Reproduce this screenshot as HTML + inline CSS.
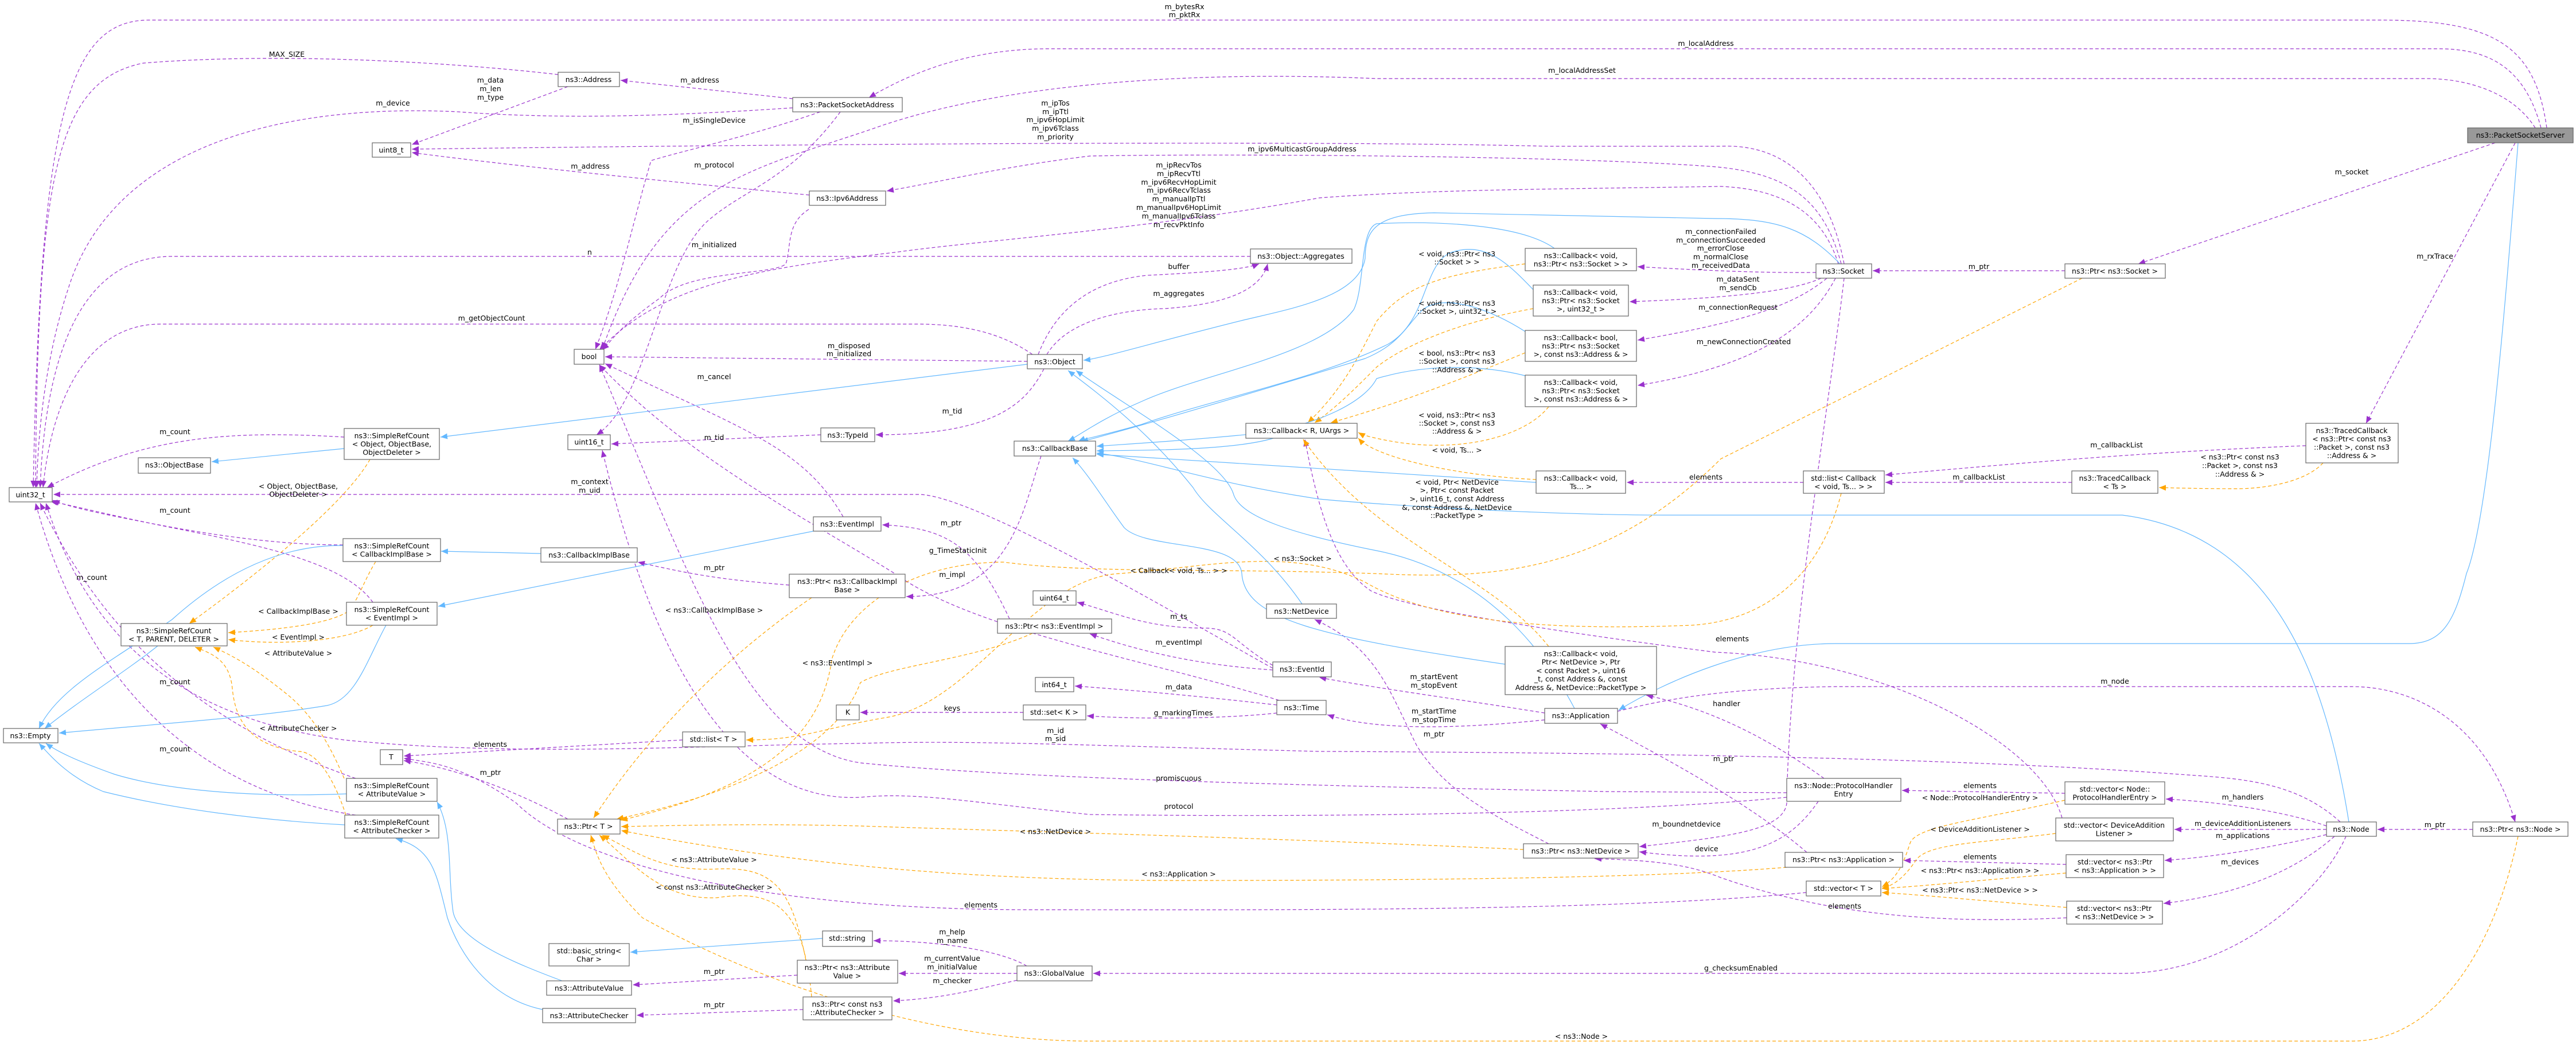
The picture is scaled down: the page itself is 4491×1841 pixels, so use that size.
<!DOCTYPE html>
<html><head><meta charset="utf-8"><style>
html,body{margin:0;padding:0;background:#fff;}
svg{display:block;}
text{font-family:"DejaVu Sans","Liberation Sans",sans-serif;font-size:12.5px;fill:#000;}
.n text{text-anchor:middle;}
.l{text-anchor:middle;}
.n rect{fill:#fff;stroke:#666;stroke-width:1.2;}
.p{fill:none;stroke:#9a32cd;stroke-width:1.2;stroke-dasharray:6,4;marker-end:url(#ap);}
.o{fill:none;stroke:#ffa500;stroke-width:1.2;stroke-dasharray:6,4;marker-end:url(#ao);}
.b{fill:none;stroke:#63b8ff;stroke-width:1.2;marker-end:url(#ab);}
</style></head><body>
<svg width="4491" height="1841" viewBox="0 0 4491 1841" xmlns="http://www.w3.org/2000/svg">
<defs>
<marker id="ap" markerUnits="userSpaceOnUse" markerWidth="13" markerHeight="10" refX="12" refY="5" orient="auto"><path d="M0,0 L12,5 L0,10 z" fill="#9a32cd"/></marker>
<marker id="ao" markerUnits="userSpaceOnUse" markerWidth="13" markerHeight="10" refX="12" refY="5" orient="auto"><path d="M0,0 L12,5 L0,10 z" fill="#ffa500"/></marker>
<marker id="ab" markerUnits="userSpaceOnUse" markerWidth="13" markerHeight="10" refX="12" refY="5" orient="auto"><path d="M0,0 L12,5 L0,10 z" fill="#63b8ff"/></marker>
</defs>

<!-- purple edges -->
<path class="p" d="M4440,223 C4420,80 4350,35 4150,35 L260,35 C120,35 70,200 58,850"/>
<path class="p" d="M4430,223 C4400,110 4330,85 4250,85 L1830,85 C1700,85 1600,120 1515,170"/>
<path class="p" d="M4420,223 C4380,160 4300,137 4230,137 L2400,137 C2000,120 1700,160 1520,225 C1300,300 1150,320 1050,609"/>
<path class="p" d="M973,130 C800,110 500,90 250,110 C100,140 65,300 62,850"/>
<path class="p" d="M990,151 L718,252"/>
<path class="p" d="M1411,340 C1200,320 900,290 718,266"/>
<path class="p" d="M1382,172 L1082,140"/>
<path class="p" d="M1382,188 C1200,200 1000,210 800,195 C500,180 200,250 120,500 C80,620 66,750 64,850"/>
<path class="p" d="M1430,195 C1300,240 1200,260 1135,280 C1100,400 1080,500 1038,609"/>
<path class="p" d="M1465,195 C1380,310 1300,330 1240,380 C1150,450 1130,700 1040,758"/>
<path class="p" d="M3215,460 C3190,330 3120,250 3000,255 L2700,255 C2300,245 1500,250 718,260"/>
<path class="p" d="M3210,460 C3180,350 3120,300 2980,290 C2700,270 2100,268 1900,272 C1750,290 1650,315 1546,333"/>
<path class="p" d="M3205,460 C3180,380 3120,330 3000,325 C2700,330 2500,330 2300,345 C2000,400 1700,420 1560,440 C1300,470 1150,500 1045,610"/>
<path class="p" d="M2180,447 L300,447 C150,447 80,600 70,850"/>
<path class="p" d="M1810,618 C1840,540 1900,490 2000,480 C2100,475 2170,470 2195,460"/>
<path class="p" d="M1825,618 C1860,560 1950,540 2030,538 C2150,530 2200,500 2210,460"/>
<path class="p" d="M1800,618 C1760,590 1700,565 1600,565 L280,565 C150,565 90,700 75,850"/>
<path class="p" d="M1791,630 L1055,622"/>
<path class="p" d="M1410,365 C1370,390 1380,430 1370,460 C1350,480 1200,470 1150,520 C1080,570 1070,590 1050,610"/>
<path class="p" d="M1820,643 C1790,700 1740,758 1527,758"/>
<path class="p" d="M1431,758 L1066,774"/>
<path class="p" d="M3600,472 L3265,472"/>
<path class="p" d="M4350,249 L3728,460"/>
<path class="p" d="M4385,249 L4125,738"/>
<path class="p" d="M3166,475 C3050,476 2950,470 2855,465"/>
<path class="p" d="M3175,485 C3120,510 3000,520 2841,526"/>
<path class="p" d="M3185,485 C3130,530 3050,560 2855,593"/>
<path class="p" d="M3200,485 C3150,580 3050,640 2855,672"/>
<path class="p" d="M600,762 C400,750 250,760 82,850"/>
<path class="p" d="M598,950 C450,950 300,920 200,900 C150,890 110,880 92,872"/>
<path class="p" d="M650,1050 C600,980 450,950 300,920 C200,900 120,880 88,874"/>
<path class="p" d="M620,1357 C400,1280 200,1150 70,877"/>
<path class="p" d="M620,1421 C350,1380 150,1200 62,877"/>
<path class="p" d="M1470,901 C1400,780 1300,750 1055,634"/>
<path class="p" d="M2219,1165 C2100,1100 1700,860 1600,862 L93,862"/>
<path class="p" d="M1376,1020 C1250,1010 1200,1000 1112,980"/>
<path class="p" d="M1815,795 C1780,900 1760,1040 1580,1040"/>
<path class="p" d="M2230,1221 C2000,1150 1700,1100 1560,1000 C1400,900 1200,800 1045,636"/>
<path class="p" d="M1760,1079 C1700,950 1650,920 1538,915"/>
<path class="p" d="M2219,1160 C2150,1120 2150,1095 2100,1095 C2000,1095 1950,1070 1878,1050"/>
<path class="p" d="M2219,1168 C2100,1160 2000,1140 1900,1105"/>
<path class="p" d="M2226,1229 C2100,1215 2000,1205 1874,1196"/>
<path class="p" d="M2226,1243 C2150,1252 2000,1255 1895,1248"/>
<path class="p" d="M1784,1242 L1500,1242"/>
<path class="p" d="M2693,1243 C2550,1220 2400,1200 2300,1181"/>
<path class="p" d="M2693,1255 C2550,1270 2400,1275 2314,1246"/>
<path class="p" d="M3150,1486 C3050,1400 2900,1320 2790,1262"/>
<path class="p" d="M4080,1433 C4000,1360 3900,1357 3800,1350 C3400,1320 2800,1312 2300,1310 C1900,1300 1700,1290 1500,1296 C1200,1300 900,1320 600,1290 C300,1250 150,1100 80,877"/>
<path class="p" d="M3115,1382 L2800,1380 C2400,1372 1800,1360 1500,1330 C1300,1300 1200,1000 1045,636"/>
<path class="p" d="M3115,1390 C2800,1420 2300,1425 1900,1420 C1700,1400 1600,1380 1500,1390 C1300,1400 1150,1200 1050,785"/>
<path class="p" d="M2700,1471 C2600,1420 2520,1380 2470,1300 C2420,1200 2400,1130 2292,1080"/>
<path class="p" d="M3215,485 C3190,700 3120,1100 3115,1400 C3110,1450 3000,1460 2858,1476"/>
<path class="p" d="M3170,1397 C3120,1470 3050,1510 2858,1485"/>
<path class="p" d="M3180,1357 C3100,1300 3000,1240 2870,1212"/>
<path class="p" d="M3603,1600 C3400,1610 3200,1600 3000,1530 C2950,1510 2900,1500 2780,1497"/>
<path class="p" d="M3149,1556 C2800,1590 2200,1586 1800,1586 C1300,1586 1000,1500 900,1400 C800,1330 750,1330 704,1322"/>
<path class="p" d="M3600,1383 L3316,1378"/>
<path class="p" d="M3602,1507 L3319,1500"/>
<path class="p" d="M3595,1426 C3560,1300 3300,1150 2990,1137 C2700,1100 2450,1060 2390,1030 C2330,990 2300,900 2275,766"/>
<path class="p" d="M1190,1290 L704,1318"/>
<path class="p" d="M990,1428 C900,1380 800,1340 704,1326"/>
<path class="p" d="M1790,1684 C1750,1660 1650,1640 1523,1640"/>
<path class="p" d="M1773,1697 L1567,1697"/>
<path class="p" d="M1773,1709 C1700,1725 1650,1740 1557,1745"/>
<path class="p" d="M1390,1700 L1103,1717"/>
<path class="p" d="M1400,1760 L1110,1770"/>
<path class="p" d="M4090,1458 C4050,1550 3900,1697 3700,1697 L1906,1697"/>
<path class="p" d="M4056,1440 C4000,1420 3900,1400 3776,1393"/>
<path class="p" d="M4056,1446 L3791,1446"/>
<path class="p" d="M4056,1455 C3950,1480 3850,1495 3774,1500"/>
<path class="p" d="M4070,1458 C4000,1520 3900,1560 3772,1575"/>
<path class="p" d="M4311,1446 L4145,1446"/>
<path class="p" d="M2820,1240 C2900,1220 3000,1200 3200,1197 L4100,1197 C4200,1197 4330,1250 4385,1433"/>
<path class="p" d="M4020,777 C3700,790 3500,810 3287,828"/>
<path class="p" d="M3612,841 L3287,841"/>
<path class="p" d="M3144,841 L2836,841"/>

<!-- orange edges -->
<path class="o" d="M645,801 C600,880 450,1000 330,1087"/>
<path class="o" d="M655,979 C630,1020 620,1060 600,1070 C560,1090 480,1098 398,1103"/>
<path class="o" d="M650,1090 C600,1120 480,1125 398,1115"/>
<path class="o" d="M600,1357 C580,1310 550,1250 500,1210 C450,1170 420,1150 372,1128"/>
<path class="o" d="M603,1421 C590,1380 560,1310 520,1310 C430,1300 410,1250 405,1200 C400,1150 370,1140 340,1128"/>
<path class="o" d="M2659,460 C2500,480 2450,500 2400,560 C2370,620 2340,680 2280,737"/>
<path class="o" d="M2673,538 C2550,560 2450,600 2400,640 C2360,680 2330,710 2292,737"/>
<path class="o" d="M2659,615 C2550,660 2450,700 2320,737"/>
<path class="o" d="M2700,709 C2660,760 2550,790 2430,770 C2390,763 2375,758 2368,754"/>
<path class="o" d="M2678,836 C2550,830 2400,800 2368,764"/>
<path class="o" d="M2700,1127 C2600,1000 2400,950 2272,766"/>
<path class="o" d="M4050,807 C4020,840 3950,852 3900,852 C3850,852 3800,851 3764,850"/>
<path class="o" d="M3210,860 C3180,980 3100,1080 2950,1090 C2700,1100 2500,1085 2380,1015 C2250,950 2100,990 1950,1000 C1800,1010 1700,1220 1550,1250 C1430,1270 1400,1290 1301,1290"/>
<path class="o" d="M3630,485 C3400,600 3200,700 3000,800 C2800,1000 2600,1010 2400,1000 C2100,990 1900,1000 1750,980 C1600,980 1480,1050 1450,1150 C1430,1300 1300,1380 1082,1430"/>
<path class="o" d="M1415,1042 C1300,1120 1150,1250 1035,1426"/>
<path class="o" d="M1800,1104 C1700,1150 1550,1160 1500,1190 C1460,1300 1300,1380 1075,1428"/>
<path class="o" d="M1405,1674 C1380,1550 1350,1510 1250,1515 C1150,1520 1100,1480 1050,1456"/>
<path class="o" d="M1415,1738 C1400,1580 1350,1550 1250,1565 C1150,1570 1100,1500 1045,1456"/>
<path class="o" d="M2656,1481 C2200,1460 1800,1450 1500,1440 C1300,1435 1150,1440 1083,1441"/>
<path class="o" d="M3115,1512 C2900,1530 2500,1535 2055,1535 C1600,1535 1300,1490 1083,1448"/>
<path class="o" d="M4390,1458 C4350,1650 4250,1815 4100,1815 L1900,1815 C1600,1815 1300,1700 1120,1600 C1050,1530 1040,1490 1030,1456"/>
<path class="o" d="M3600,1395 C3450,1430 3340,1440 3330,1470 C3320,1500 3310,1530 3281,1546"/>
<path class="o" d="M3584,1453 C3450,1470 3360,1470 3340,1500 C3320,1530 3300,1545 3281,1548"/>
<path class="o" d="M3602,1522 C3450,1535 3350,1545 3281,1549"/>
<path class="o" d="M3603,1582 C3450,1570 3350,1560 3281,1556"/>

<!-- blue edges -->
<path class="b" d="M4390,249 C4370,500 4340,900 4300,1000 C4280,1080 4260,1122 4200,1122 L3200,1122 C3050,1122 2900,1190 2822,1238"/>
<path class="b" d="M2745,1235 C2700,1150 2600,1000 2400,960 C2250,930 2160,900 2150,860 C2130,800 1950,700 1876,646"/>
<path class="b" d="M2624,1158 C2300,1110 2170,1080 2165,1000 C2160,940 2000,960 1960,920 C1930,880 1900,830 1870,798"/>
<path class="b" d="M2270,1053 C2200,950 2110,900 2080,850 C2000,750 1920,690 1862,646"/>
<path class="b" d="M4095,1433 C4050,1150 3950,930 3700,898 L2900,898 C2700,898 2400,880 2300,870 C2100,840 2000,800 1912,790"/>
<path class="b" d="M2678,841 L1912,792"/>
<path class="b" d="M2220,764 C2150,785 2000,785 1912,786"/>
<path class="b" d="M2710,433 C2650,390 2500,385 2400,390 C2370,400 2380,500 2360,540 C2300,620 2100,650 1990,700 C1920,730 1880,760 1862,769"/>
<path class="b" d="M2673,505 C2630,460 2590,420 2530,440 C2480,460 2490,560 2420,600 C2300,660 2100,700 1990,740 C1920,760 1890,765 1880,769"/>
<path class="b" d="M2659,578 C2600,540 2520,510 2480,540 C2450,570 2440,600 2380,625 C2200,680 2000,740 1885,770"/>
<path class="b" d="M2659,655 C2600,640 2500,630 2400,660 C2380,700 2300,740 2200,755 C2050,770 1950,775 1912,778"/>
<path class="b" d="M3208,460 C3150,400 3100,381 2991,381 L2500,371 C2400,373 2380,400 2380,450 C2370,520 2240,540 2160,560 C2000,600 1920,625 1889,628"/>
<path class="b" d="M1791,635 L768,762"/>
<path class="b" d="M600,782 L369,805"/>
<path class="b" d="M943,965 L769,961"/>
<path class="b" d="M598,951 C500,950 400,990 300,1080 C200,1150 100,1200 68,1270"/>
<path class="b" d="M1418,926 L764,1057"/>
<path class="b" d="M673,1090 C640,1150 620,1220 570,1230 C450,1250 300,1260 103,1278"/>
<path class="b" d="M275,1126 C220,1170 140,1220 78,1270"/>
<path class="b" d="M604,1384 C450,1390 300,1380 200,1350 C130,1325 100,1310 80,1296"/>
<path class="b" d="M601,1438 C450,1430 300,1410 180,1380 C120,1355 90,1320 68,1296"/>
<path class="b" d="M980,1710 C900,1680 800,1640 790,1590 C780,1520 790,1450 762,1398"/>
<path class="b" d="M946,1760 C850,1740 800,1660 780,1600 C760,1520 755,1480 690,1462"/>
<path class="b" d="M1434,1636 L1099,1660"/>

<!-- edge labels -->
<g class="lbl">
<text class="l" x="2065" y="16">m_bytesRx</text><text class="l" x="2065" y="30">m_pktRx</text>
<text class="l" x="2974" y="80">m_localAddress</text>
<text class="l" x="2758" y="127">m_localAddressSet</text>
<text class="l" x="500" y="99">MAX_SIZE</text>
<text class="l" x="855" y="144">m_data</text><text class="l" x="855" y="159">m_len</text><text class="l" x="855" y="174">m_type</text>
<text class="l" x="1220" y="144">m_address</text>
<text class="l" x="685" y="184">m_device</text>
<text class="l" x="1245" y="214">m_isSingleDevice</text>
<text class="l" x="1245" y="292">m_protocol</text>
<text class="l" x="1029" y="294">m_address</text>
<text class="l" x="1840" y="184">m_ipTos</text><text class="l" x="1840" y="199">m_ipTtl</text><text class="l" x="1840" y="213">m_ipv6HopLimit</text><text class="l" x="1840" y="228">m_ipv6Tclass</text><text class="l" x="1840" y="243">m_priority</text>
<text class="l" x="2270" y="264">m_ipv6MulticastGroupAddress</text>
<text class="l" x="2055" y="292">m_ipRecvTos</text><text class="l" x="2055" y="307">m_ipRecvTtl</text><text class="l" x="2055" y="322">m_ipv6RecvHopLimit</text><text class="l" x="2055" y="336">m_ipv6RecvTclass</text><text class="l" x="2055" y="351">m_manualIpTtl</text><text class="l" x="2055" y="366">m_manualIpv6HopLimit</text><text class="l" x="2055" y="381">m_manualIpv6Tclass</text><text class="l" x="2055" y="396">m_recvPktInfo</text>
<text class="l" x="1245" y="431">m_initialized</text>
<text class="l" x="1028" y="444">n</text>
<text class="l" x="2055" y="469">buffer</text>
<text class="l" x="2055" y="516">m_aggregates</text>
<text class="l" x="857" y="559">m_getObjectCount</text>
<text class="l" x="1480" y="607">m_disposed</text><text class="l" x="1480" y="621">m_initialized</text>
<text class="l" x="1245" y="661">m_cancel</text>
<text class="l" x="1660" y="721">m_tid</text>
<text class="l" x="1245" y="767">m_tid</text>
<text class="l" x="305" y="757">m_count</text>
<text class="l" x="3450" y="469">m_ptr</text>
<text class="l" x="4100" y="304">m_socket</text>
<text class="l" x="4245" y="451">m_rxTrace</text>
<text class="l" x="3000" y="408">m_connectionFailed</text><text class="l" x="3000" y="423">m_connectionSucceeded</text><text class="l" x="3000" y="437">m_errorClose</text><text class="l" x="3000" y="452">m_normalClose</text><text class="l" x="3000" y="467">m_receivedData</text>
<text class="l" x="3030" y="491">m_dataSent</text><text class="l" x="3030" y="506">m_sendCb</text>
<text class="l" x="3030" y="540">m_connectionRequest</text>
<text class="l" x="3040" y="600">m_newConnectionCreated</text>
<text class="l" x="2540" y="447">&lt; void, ns3::Ptr&lt; ns3</text><text class="l" x="2540" y="461">::Socket &gt; &gt;</text>
<text class="l" x="2540" y="533">&lt; void, ns3::Ptr&lt; ns3</text><text class="l" x="2540" y="547">::Socket &gt;, uint32_t &gt;</text>
<text class="l" x="2540" y="620">&lt; bool, ns3::Ptr&lt; ns3</text><text class="l" x="2540" y="634">::Socket &gt;, const ns3</text><text class="l" x="2540" y="649">::Address &amp; &gt;</text>
<text class="l" x="2540" y="728">&lt; void, ns3::Ptr&lt; ns3</text><text class="l" x="2540" y="742">::Socket &gt;, const ns3</text><text class="l" x="2540" y="756">::Address &amp; &gt;</text>
<text class="l" x="2540" y="789">&lt; void, Ts... &gt;</text>
<text class="l" x="2540" y="845">&lt; void, Ptr&lt; NetDevice</text><text class="l" x="2540" y="859">&gt;, Ptr&lt; const Packet</text><text class="l" x="2540" y="874">&gt;, uint16_t, const Address</text><text class="l" x="2540" y="889">&amp;, const Address &amp;, NetDevice</text><text class="l" x="2540" y="903">::PacketType &gt;</text>
<text class="l" x="2974" y="836">elements</text>
<text class="l" x="3690" y="780">m_callbackList</text>
<text class="l" x="3450" y="836">m_callbackList</text>
<text class="l" x="3905" y="801">&lt; ns3::Ptr&lt; const ns3</text><text class="l" x="3905" y="816">::Packet &gt;, const ns3</text><text class="l" x="3905" y="831">::Address &amp; &gt;</text>
<text class="l" x="520" y="852">&lt; Object, ObjectBase,</text><text class="l" x="520" y="866">ObjectDeleter &gt;</text>
<text class="l" x="1028" y="844">m_context</text><text class="l" x="1028" y="859">m_uid</text>
<text class="l" x="305" y="894">m_count</text>
<text class="l" x="160" y="1011">m_count</text>
<text class="l" x="520" y="1070">&lt; CallbackImplBase &gt;</text>
<text class="l" x="520" y="1115">&lt; EventImpl &gt;</text>
<text class="l" x="520" y="1143">&lt; AttributeValue &gt;</text>
<text class="l" x="305" y="1193">m_count</text>
<text class="l" x="520" y="1274">&lt; AttributeChecker &gt;</text>
<text class="l" x="305" y="1310">m_count</text>
<text class="l" x="1245" y="994">m_ptr</text>
<text class="l" x="1245" y="1068">&lt; ns3::CallbackImplBase &gt;</text>
<text class="l" x="1460" y="1160">&lt; ns3::EventImpl &gt;</text>
<text class="l" x="1670" y="964">g_TimeStaticInit</text>
<text class="l" x="1658" y="916">m_ptr</text>
<text class="l" x="1660" y="1006">m_impl</text>
<text class="l" x="2271" y="978">&lt; ns3::Socket &gt;</text>
<text class="l" x="2055" y="999">&lt; Callback&lt; void, Ts... &gt; &gt;</text>
<text class="l" x="2055" y="1079">m_ts</text>
<text class="l" x="2055" y="1124">m_eventImpl</text>
<text class="l" x="2055" y="1202">m_data</text>
<text class="l" x="2063" y="1247">g_markingTimes</text>
<text class="l" x="1660" y="1239">keys</text>
<text class="l" x="2500" y="1184">m_startEvent</text><text class="l" x="2500" y="1199">m_stopEvent</text>
<text class="l" x="2500" y="1244">m_startTime</text><text class="l" x="2500" y="1259">m_stopTime</text>
<text class="l" x="2500" y="1284">m_ptr</text>
<text class="l" x="1840" y="1278">m_id</text><text class="l" x="1840" y="1292">m_sid</text>
<text class="l" x="855" y="1302">elements</text>
<text class="l" x="855" y="1351">m_ptr</text>
<text class="l" x="2055" y="1361">promiscuous</text>
<text class="l" x="2055" y="1410">protocol</text>
<text class="l" x="1840" y="1454">&lt; ns3::NetDevice &gt;</text>
<text class="l" x="2055" y="1528">&lt; ns3::Application &gt;</text>
<text class="l" x="1710" y="1582">elements</text>
<text class="l" x="1245" y="1503">&lt; ns3::AttributeValue &gt;</text>
<text class="l" x="1245" y="1551">&lt; const ns3::AttributeChecker &gt;</text>
<text class="l" x="1660" y="1629">m_help</text><text class="l" x="1660" y="1644">m_name</text>
<text class="l" x="1660" y="1675">m_currentValue</text><text class="l" x="1660" y="1690">m_initialValue</text>
<text class="l" x="1660" y="1714">m_checker</text>
<text class="l" x="1245" y="1698">m_ptr</text>
<text class="l" x="1245" y="1756">m_ptr</text>
<text class="l" x="2757" y="1811">&lt; ns3::Node &gt;</text>
<text class="l" x="3035" y="1692">g_checksumEnabled</text>
<text class="l" x="3687" y="1192">m_node</text>
<text class="l" x="3020" y="1118">elements</text>
<text class="l" x="3010" y="1231">handler</text>
<text class="l" x="3005" y="1327">m_ptr</text>
<text class="l" x="2940" y="1441">m_boundnetdevice</text>
<text class="l" x="2975" y="1484">device</text>
<text class="l" x="3452" y="1374">elements</text>
<text class="l" x="3452" y="1395">&lt; Node::ProtocolHandlerEntry &gt;</text>
<text class="l" x="3452" y="1450">&lt; DeviceAdditionListener &gt;</text>
<text class="l" x="3452" y="1498">elements</text>
<text class="l" x="3452" y="1522">&lt; ns3::Ptr&lt; ns3::Application &gt; &gt;</text>
<text class="l" x="3452" y="1556">&lt; ns3::Ptr&lt; ns3::NetDevice &gt; &gt;</text>
<text class="l" x="3216" y="1584">elements</text>
<text class="l" x="3910" y="1394">m_handlers</text>
<text class="l" x="3910" y="1440">m_deviceAdditionListeners</text>
<text class="l" x="3910" y="1461">m_applications</text>
<text class="l" x="3905" y="1507">m_devices</text>
<text class="l" x="4245" y="1442">m_ptr</text>
</g>

<!-- nodes -->
<g class="n">
<rect x="973" y="126" width="107" height="25"/><text x="1026" y="143">ns3::Address</text>
<rect x="1382" y="170" width="191" height="25"/><text x="1477" y="187">ns3::PacketSocketAddress</text>
<rect x="649" y="249" width="67" height="25"/><text x="682" y="266">uint8_t</text>
<rect x="1411" y="333" width="133" height="25"/><text x="1477" y="350">ns3::Ipv6Address</text>
<rect x="1001" y="609" width="52" height="26"/><text x="1027" y="626">bool</text>
<rect x="241" y="798" width="126" height="27"/><text x="304" y="815">ns3::ObjectBase</text>
<rect x="600" y="747" width="166" height="54"/><text x="683" y="764"><tspan x="683">ns3::SimpleRefCount</tspan><tspan x="683" dy="14.5">&lt; Object, ObjectBase,</tspan><tspan x="683" dy="14.5">ObjectDeleter &gt;</tspan></text>
<rect x="990" y="758" width="74" height="26"/><text x="1027" y="775">uint16_t</text>
<rect x="16" y="850" width="75" height="25"/><text x="53" y="867">uint32_t</text>
<rect x="1431" y="746" width="94" height="24"/><text x="1478" y="763">ns3::TypeId</text>
<rect x="1418" y="901" width="118" height="25"/><text x="1477" y="918">ns3::EventImpl</text>
<rect x="2180" y="434" width="177" height="25"/><text x="2268" y="451">ns3::Object::Aggregates</text>
<rect x="1791" y="618" width="96" height="25"/><text x="1839" y="635">ns3::Object</text>
<rect x="1768" y="769" width="142" height="26"/><text x="1839" y="786">ns3::CallbackBase</text>
<rect x="2172" y="738" width="194" height="26"/><text x="2269" y="755">ns3::Callback&lt; R, UArgs &gt;</text>
<rect x="2659" y="433" width="194" height="39"/><text x="2756" y="450"><tspan x="2756">ns3::Callback&lt; void,</tspan><tspan x="2756" dy="14.5">ns3::Ptr&lt; ns3::Socket &gt; &gt;</tspan></text>
<rect x="2673" y="497" width="166" height="54"/><text x="2756" y="514"><tspan x="2756">ns3::Callback&lt; void,</tspan><tspan x="2756" dy="14.5">ns3::Ptr&lt; ns3::Socket</tspan><tspan x="2756" dy="14.5">&gt;, uint32_t &gt;</tspan></text>
<rect x="2659" y="576" width="194" height="54"/><text x="2756" y="593"><tspan x="2756">ns3::Callback&lt; bool,</tspan><tspan x="2756" dy="14.5">ns3::Ptr&lt; ns3::Socket</tspan><tspan x="2756" dy="14.5">&gt;, const ns3::Address &amp; &gt;</tspan></text>
<rect x="2659" y="654" width="194" height="55"/><text x="2756" y="671"><tspan x="2756">ns3::Callback&lt; void,</tspan><tspan x="2756" dy="14.5">ns3::Ptr&lt; ns3::Socket</tspan><tspan x="2756" dy="14.5">&gt;, const ns3::Address &amp; &gt;</tspan></text>
<rect x="2678" y="821" width="156" height="39"/><text x="2756" y="838"><tspan x="2756">ns3::Callback&lt; void,</tspan><tspan x="2756" dy="14.5">Ts... &gt;</tspan></text>
<rect x="4302" y="223" width="184" height="26" style="fill:#999"/><text x="4394" y="240">ns3::PacketSocketServer</text>
<rect x="3166" y="460" width="97" height="25"/><text x="3214" y="477">ns3::Socket</text>
<rect x="3600" y="460" width="175" height="25"/><text x="3687" y="477">ns3::Ptr&lt; ns3::Socket &gt;</text>
<rect x="4020" y="738" width="161" height="69"/><text x="4100" y="755"><tspan x="4100">ns3::TracedCallback</tspan><tspan x="4100" dy="14.5">&lt; ns3::Ptr&lt; const ns3</tspan><tspan x="4100" dy="14.5">::Packet &gt;, const ns3</tspan><tspan x="4100" dy="14.5">::Address &amp; &gt;</tspan></text>
<rect x="3612" y="821" width="150" height="39"/><text x="3687" y="838"><tspan x="3687">ns3::TracedCallback</tspan><tspan x="3687" dy="14.5">&lt; Ts &gt;</tspan></text>
<rect x="3144" y="821" width="141" height="39"/><text x="3214" y="838"><tspan x="3214">std::list&lt; Callback</tspan><tspan x="3214" dy="14.5">&lt; void, Ts... &gt; &gt;</tspan></text>
<rect x="598" y="939" width="170" height="40"/><text x="683" y="956"><tspan x="683">ns3::SimpleRefCount</tspan><tspan x="683" dy="14.5">&lt; CallbackImplBase &gt;</tspan></text>
<rect x="943" y="955" width="168" height="25"/><text x="1027" y="972">ns3::CallbackImplBase</text>
<rect x="1376" y="1001" width="202" height="41"/><text x="1477" y="1018"><tspan x="1477">ns3::Ptr&lt; ns3::CallbackImpl</tspan><tspan x="1477" dy="14.5">Base &gt;</tspan></text>
<rect x="604" y="1050" width="158" height="40"/><text x="683" y="1067"><tspan x="683">ns3::SimpleRefCount</tspan><tspan x="683" dy="14.5">&lt; EventImpl &gt;</tspan></text>
<rect x="211" y="1087" width="185" height="39"/><text x="303" y="1104"><tspan x="303">ns3::SimpleRefCount</tspan><tspan x="303" dy="14.5">&lt; T, PARENT, DELETER &gt;</tspan></text>
<rect x="6" y="1270" width="95" height="25"/><text x="53" y="1287">ns3::Empty</text>
<rect x="663" y="1307" width="39" height="26"/><text x="682" y="1324">T</text>
<rect x="1190" y="1276" width="109" height="26"/><text x="1244" y="1293">std::list&lt; T &gt;</text>
<rect x="1458" y="1229" width="40" height="26"/><text x="1478" y="1246">K</text>
<rect x="604" y="1357" width="158" height="40"/><text x="683" y="1374"><tspan x="683">ns3::SimpleRefCount</tspan><tspan x="683" dy="14.5">&lt; AttributeValue &gt;</tspan></text>
<rect x="601" y="1421" width="164" height="40"/><text x="683" y="1438"><tspan x="683">ns3::SimpleRefCount</tspan><tspan x="683" dy="14.5">&lt; AttributeChecker &gt;</tspan></text>
<rect x="972" y="1428" width="109" height="26"/><text x="1026" y="1445">ns3::Ptr&lt; T &gt;</text>
<rect x="957" y="1645" width="140" height="39"/><text x="1027" y="1662"><tspan x="1027">std::basic_string&lt;</tspan><tspan x="1027" dy="14.5">Char &gt;</tspan></text>
<rect x="1434" y="1623" width="87" height="27"/><text x="1477" y="1640">std::string</text>
<rect x="953" y="1710" width="148" height="25"/><text x="1027" y="1727">ns3::AttributeValue</text>
<rect x="946" y="1758" width="162" height="25"/><text x="1027" y="1775">ns3::AttributeChecker</text>
<rect x="1390" y="1674" width="175" height="40"/><text x="1477" y="1691"><tspan x="1477">ns3::Ptr&lt; ns3::Attribute</tspan><tspan x="1477" dy="14.5">Value &gt;</tspan></text>
<rect x="1400" y="1738" width="155" height="40"/><text x="1477" y="1755"><tspan x="1477">ns3::Ptr&lt; const ns3</tspan><tspan x="1477" dy="14.5">::AttributeChecker &gt;</tspan></text>
<rect x="1801" y="1030" width="75" height="25"/><text x="1838" y="1047">uint64_t</text>
<rect x="1739" y="1079" width="199" height="25"/><text x="1838" y="1096">ns3::Ptr&lt; ns3::EventImpl &gt;</text>
<rect x="2208" y="1053" width="122" height="25"/><text x="2269" y="1070">ns3::NetDevice</text>
<rect x="2219" y="1154" width="102" height="26"/><text x="2270" y="1171">ns3::EventId</text>
<rect x="1805" y="1181" width="67" height="25"/><text x="1838" y="1198">int64_t</text>
<rect x="2226" y="1221" width="86" height="25"/><text x="2269" y="1238">ns3::Time</text>
<rect x="1784" y="1229" width="109" height="26"/><text x="1838" y="1246">std::set&lt; K &gt;</text>
<rect x="2624" y="1127" width="264" height="84"/><text x="2756" y="1144"><tspan x="2756">ns3::Callback&lt; void,</tspan><tspan x="2756" dy="14.7">Ptr&lt; NetDevice &gt;, Ptr</tspan><tspan x="2756" dy="14.7">&lt; const Packet &gt;, uint16</tspan><tspan x="2756" dy="14.7">_t, const Address &amp;, const</tspan><tspan x="2756" dy="14.7">Address &amp;, NetDevice::PacketType &gt;</tspan></text>
<rect x="2693" y="1235" width="127" height="26"/><text x="2756" y="1252">ns3::Application</text>
<rect x="2656" y="1471" width="200" height="25"/><text x="2756" y="1488">ns3::Ptr&lt; ns3::NetDevice &gt;</text>
<rect x="1773" y="1684" width="131" height="26"/><text x="1838" y="1701">ns3::GlobalValue</text>
<rect x="3115" y="1357" width="199" height="40"/><text x="3214" y="1374"><tspan x="3214">ns3::Node::ProtocolHandler</tspan><tspan x="3214" dy="14.5">Entry</tspan></text>
<rect x="3600" y="1363" width="174" height="39"/><text x="3687" y="1380"><tspan x="3687">std::vector&lt; Node::</tspan><tspan x="3687" dy="14.5">ProtocolHandlerEntry &gt;</tspan></text>
<rect x="3584" y="1426" width="205" height="40"/><text x="3686" y="1443"><tspan x="3686">std::vector&lt; DeviceAddition</tspan><tspan x="3686" dy="14.5">Listener &gt;</tspan></text>
<rect x="4056" y="1433" width="87" height="25"/><text x="4099" y="1450">ns3::Node</text>
<rect x="4311" y="1433" width="166" height="25"/><text x="4394" y="1450">ns3::Ptr&lt; ns3::Node &gt;</text>
<rect x="3112" y="1486" width="205" height="26"/><text x="3214" y="1503">ns3::Ptr&lt; ns3::Application &gt;</text>
<rect x="3149" y="1536" width="130" height="26"/><text x="3214" y="1553">std::vector&lt; T &gt;</text>
<rect x="3602" y="1490" width="170" height="40"/><text x="3687" y="1507"><tspan x="3687">std::vector&lt; ns3::Ptr</tspan><tspan x="3687" dy="14.5">&lt; ns3::Application &gt; &gt;</tspan></text>
<rect x="3603" y="1571" width="167" height="40"/><text x="3686" y="1588"><tspan x="3686">std::vector&lt; ns3::Ptr</tspan><tspan x="3686" dy="14.5">&lt; ns3::NetDevice &gt; &gt;</tspan></text>
</g>
</svg>
</body></html>
